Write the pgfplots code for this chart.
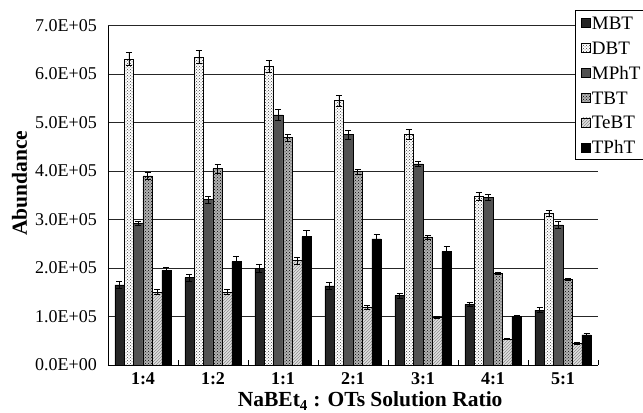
\documentclass[border=0pt]{standalone}
\usepackage{fontspec}
\setmainfont{Liberation Serif}
\usepackage{pgfplots}
\pgfplotsset{compat=1.18}
\usetikzlibrary{patterns}
\begin{document}
\begin{tikzpicture}
\begin{axis}[
  scale only axis, width=490pt, height=339.4pt,
  ybar=0pt, bar width=9.4pt,
  xmin=-0.5, xmax=6.5, ymin=0, ymax=700000,
  axis x line*=bottom, axis y line*=left,
  axis line style={black, line width=0.8pt},
  xtick={0,1,2,3,4,5,6},
  xticklabels={1:4,1:2,1:1,2:1,3:1,4:1,5:1},
  minor xtick={-0.5,0.5,1.5,2.5,3.5,4.5,5.5,6.5},
  major tick length=0pt, minor tick length=5pt, tick align=inside,
  minor tick style={black, line width=0.6pt},
  ytick={0,100000,200000,300000,400000,500000,600000,700000},
  yticklabels={0.0E+00,1.0E+05,2.0E+05,3.0E+05,4.0E+05,5.0E+05,6.0E+05,7.0E+05},
  scaled y ticks=false,
  ymajorgrids, grid style={black!85, line width=0.7pt},
  y tick label style={font=\fontsize{18}{20}\selectfont, anchor=east, inner sep=0pt, xshift=-11pt},
  x tick label style={font=\bfseries\fontsize{18}{20}\selectfont, anchor=base, inner sep=0pt, yshift=-20pt},
  xlabel={NaBEt\textsubscript{4} : OTs Solution Ratio},
  xlabel style={font=\bfseries\fontsize{21.5}{24}\selectfont, at={(axis description cs:0.535,0)}, anchor=base, yshift=-42pt, inner sep=0pt},
  ylabel={Abundance},
  ylabel style={font=\bfseries\fontsize{21.5}{24}\selectfont, at={(axis description cs:0,0.536)}, anchor=center, yshift=88.5pt, inner sep=0pt},
  error bars/y dir=both, error bars/y explicit,
  error bars/error bar style={black, line width=0.7pt},
  error bars/error mark options={black, rotate=90, mark size=3pt, line width=0.7pt},
  legend image code/.code={\draw[#1] (0pt,-4.5pt) rectangle (9pt,4.5pt);},
  legend cell align=left,
  legend style={at={(axis description cs:0.9531,1.046)}, anchor=north west, draw=black, fill=white, line width=0.7pt,
    font=\fontsize{19}{21}\selectfont, inner xsep=6pt, inner ysep=5pt, row sep=9.9pt,
    nodes={inner sep=1pt, text height=13pt, text depth=0pt}},
]
% MBT
\addplot[draw=black, line width=0.5pt, fill=black!85] coordinates {
 (0,165000) +- (0,7000) (1,180000) +- (0,7000) (2,200000) +- (0,8000) (3,163000) +- (0,7000)
 (4,143000) +- (0,5000) (5,125000) +- (0,5000) (6,113000) +- (0,5000)};
% DBT
\addplot[draw=black, line width=0.5pt, fill=white, postaction={pattern=crosshatch dots, pattern color=black!75}] coordinates {
 (0,631000) +- (0,14000) (1,635000) +- (0,13000) (2,616000) +- (0,12000) (3,545000) +- (0,11000)
 (4,475000) +- (0,10000) (5,348000) +- (0,8000) (6,312000) +- (0,6000)};
% MPhT
\addplot[draw=black, line width=0.5pt, fill=black!68] coordinates {
 (0,292000) +- (0,4000) (1,341000) +- (0,7000) (2,516000) +- (0,12000) (3,475000) +- (0,9000)
 (4,415000) +- (0,6000) (5,346000) +- (0,6000) (6,289000) +- (0,7000)};
% TBT
\addplot[draw=black, line width=0.5pt, fill=black!30, postaction={pattern=crosshatch dots, pattern color=black}] coordinates {
 (0,390000) +- (0,8000) (1,405000) +- (0,9000) (2,469000) +- (0,7000) (3,399000) +- (0,5000)
 (4,264000) +- (0,4000) (5,189000) +- (0,3000) (6,176000) +- (0,2000)};
% TeBT
\addplot[draw=black, line width=0.5pt, fill=black!12, postaction={pattern=north east lines, pattern color=black!45}] coordinates {
 (0,150000) +- (0,5000) (1,150000) +- (0,5000) (2,215000) +- (0,8000) (3,119000) +- (0,4000)
 (4,98000) +- (0,2000) (5,53000) +- (0,1000) (6,45000) +- (0,2000)};
% TPhT
\addplot[draw=black, line width=0.5pt, fill=black] coordinates {
 (0,195000) +- (0,7000) (1,213000) +- (0,12000) (2,265000) +- (0,13000) (3,260000) +- (0,10000)
 (4,234000) +- (0,10000) (5,100000) +- (0,2000) (6,62000) +- (0,3000)};
\legend{MBT,DBT,MPhT,TBT,TeBT,TPhT}
\end{axis}
\pgfresetboundingbox
\path ([shift={(-108pt,-48pt)}]current axis.south west) rectangle ([shift={(45pt,25.6pt)}]current axis.north east);
\end{tikzpicture}
\end{document}
